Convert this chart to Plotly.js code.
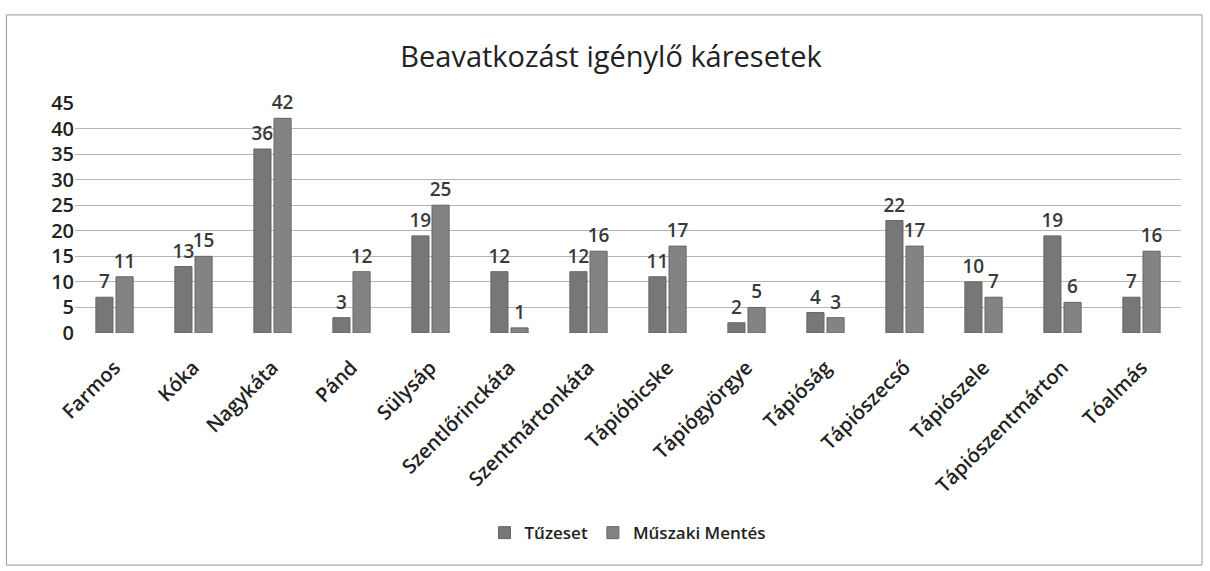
<!DOCTYPE html>
<html><head><meta charset="utf-8">
<script src="https://cdn.plot.ly/plotly-3.0.1.min.js"></script>
<style>body{margin:0;background:#fff}#c{width:1210px;height:571px}</style>
</head><body><div id="c"></div>
<script>
const categories = ["Farmos","Kóka","Nagykáta","Pánd","Sülysáp","Szentlőrinckáta","Szentmártonkáta","Tápióbicske","Tápiógyörgye","Tápióság","Tápiószecső","Tápiószele","Tápiószentmárton","Tóalmás"];
const tuzeset = [7,13,36,3,19,12,12,11,2,4,22,10,19,7];
const muszaki = [11,15,42,12,25,1,16,17,5,3,17,7,6,16];
const yTicks = [0,5,10,15,20,25,30,35,40,45];

const fontFam = "'Open Sans', 'Noto Sans', sans-serif";
const mk = (name, vals, color) => ({
  type: 'bar', name: name, x: categories, y: vals,
  marker: {color: color, line: {color: '#666', width: 1}},
  text: vals.map(String), textposition: 'outside', cliponaxis: false, constraintext: 'none',
  textfont: {family: fontFam, size: 19, color: '#3a3a3a', weight: 600}
});
const data = [mk('Tűzeset', tuzeset, '#777777'), mk('Műszaki Mentés', muszaki, '#838383')];
const layout = {
  width: 1210, height: 571,
  margin: {l: 75, r: 29, t: 103, b: 238},
  paper_bgcolor: '#fff', plot_bgcolor: '#fff',
  title: {text: 'Beavatkozást igénylő káresetek', x: 0.505, xanchor: 'center', y: 0.9, yanchor: 'middle',
          font: {family: fontFam, size: 29, color: '#222'}},
  barmode: 'group', bargap: 0.49, bargroupgap: 0.15,
  xaxis: {tickangle: -45, tickfont: {family: fontFam, size: 20, color: '#222', weight: 600},
          showline: false, ticks: '', ticklabelstandoff: 18},
  yaxis: {range: [0, 45], tickvals: yTicks, ticktext: yTicks.map(String),
          tickfont: {family: fontFam, size: 20, color: '#222', weight: 600},
          gridcolor: '#b5b5b5', gridwidth: 1, zeroline: false, showline: false, ticks: '', ticklen: 0},
  showlegend: true,
  legend: {orientation: 'h', x: 0.5, xanchor: 'center', y: -0.87, yanchor: 'middle',
           font: {family: fontFam, size: 17, color: '#222', weight: 600}, itemwidth: 30, traceorder: 'normal'},
  shapes: [{type: 'rect', xref: 'paper', yref: 'paper', x0: -0.062, x1: 1.019, y0: -1.009, y1: 1.383,
            line: {color: '#999', width: 1}}]
};
Plotly.newPlot('c', data, layout, {displayModeBar: false});
</script></body></html>
